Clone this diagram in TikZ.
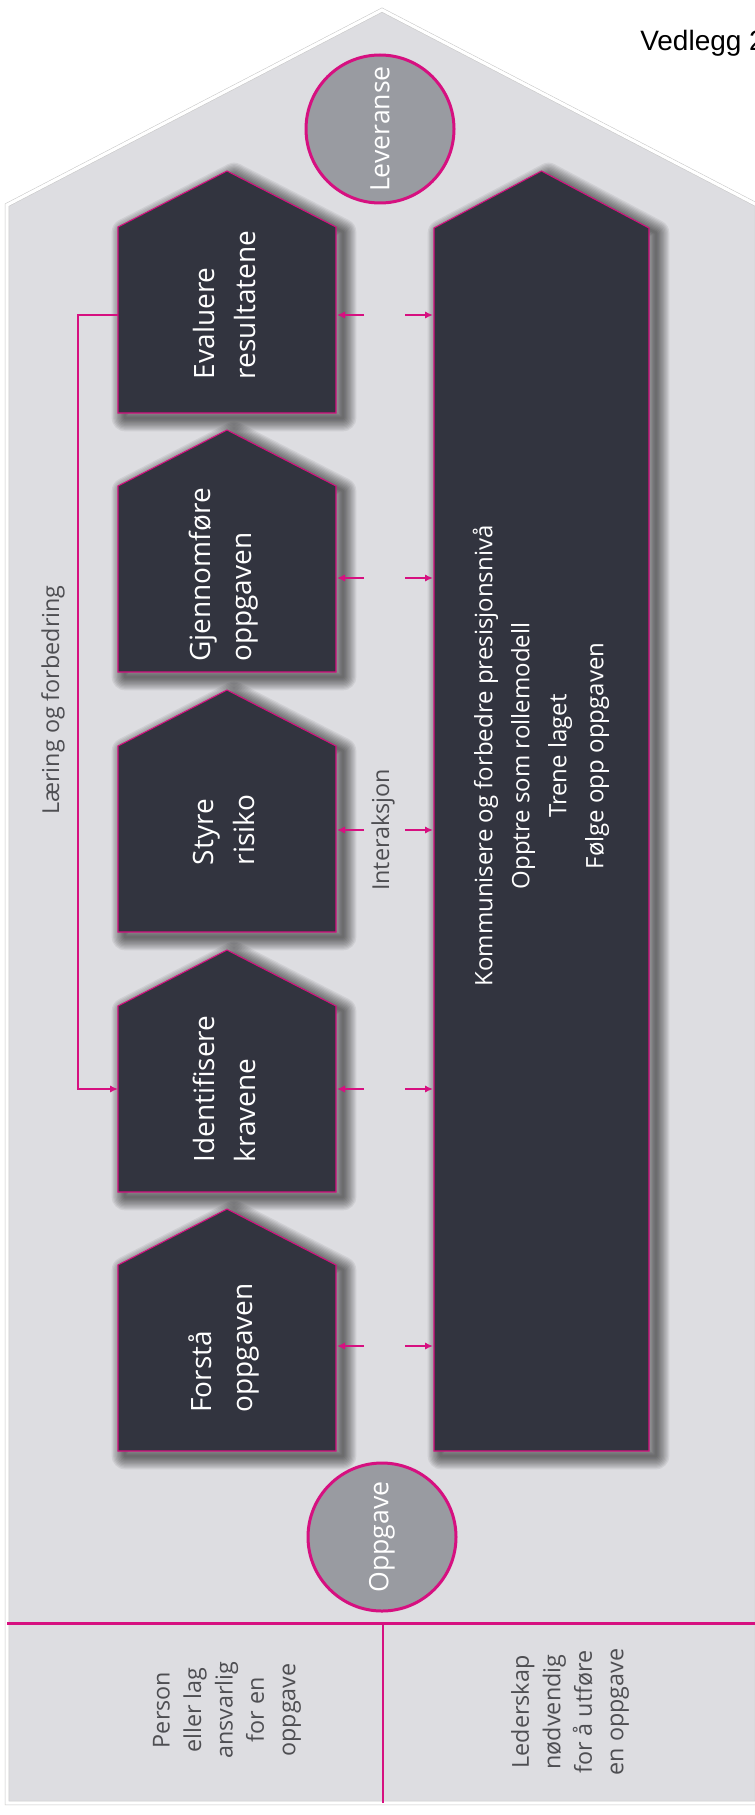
\documentclass[tikz,border=0pt]{standalone}
\usepackage{fontspec}
\setmainfont{Open Sans}
\newfontfamily\arialf{Liberation Sans}
\usetikzlibrary{arrows.meta,calc}
\definecolor{housebg}{RGB}{221,221,225}
\definecolor{boxfill}{RGB}{50,52,63}
\definecolor{mag}{RGB}{214,16,128}
\definecolor{circfill}{RGB}{153,155,161}
\definecolor{labgray}{RGB}{78,78,82}
\newcommand\pentpath[2]{({#1-109},{#2}) -- ({#1-109},{#2-186}) -- ({#1},{#2-242}) -- ({#1+109},{#2-186}) -- ({#1+109},{#2}) -- cycle}
\newcommand\softshade[1]{%
  \foreach \lw in {2pt,4pt,6pt,8pt,10pt,12pt,14pt,16pt,18pt,20pt}{%
    \path[shift={(7,5)}, draw=black, opacity=0.065, line width=\lw, line join=round] #1;}}
\tikzset{
  boxshape/.style={fill=boxfill, draw=mag, line width=0.8pt, line join=miter},
  arr/.style={draw=mag, line width=1.5pt, -{Latex[length=6pt,width=5.5pt]}},
  fbline/.style={draw=mag, line width=1.5pt, -{Latex[length=6pt,width=5.5pt]}},
  boxtext/.style={text=white, rotate=90, align=left, inner sep=0pt, font=\fontsize{21}{30.75}\selectfont},
  bigtext/.style={text=white, rotate=90, align=center, inner sep=0pt, font=\fontsize{18}{27.75}\selectfont},
  circ/.style={circle, fill=circfill, draw=mag, line width=2.25pt, minimum size=111pt, inner sep=0pt},
  circtext/.style={text=white, rotate=90, inner sep=0pt, font=\fontsize{20}{24}\selectfont},
  labtext/.style={text=labgray, rotate=90, align=center, inner sep=0pt, font=\fontsize{17.5}{23.6}\selectfont},
  sidetext/.style={text=labgray, rotate=90, inner sep=0pt, font=\fontsize{17.5}{22}\selectfont},
}
\begin{document}
\begin{tikzpicture}[x=0.75pt,y=-0.75pt]
\useasboundingbox (0,0) rectangle (754,1815);
\fill[white] (0,0) rectangle (754,1815);
% house
\fill[housebg] (7,205) -- (382,10) -- (757,205) -- (757,1803) -- (7,1803) -- cycle;
\draw[black!22, line width=3.2pt, line join=miter] (7,205) -- (382,10) -- (757,205) -- (757,1803) -- (7,1803) -- cycle;
\draw[white, line width=2.4pt, line join=miter] (7,205) -- (382,10) -- (757,205) -- (757,1803) -- (7,1803) -- cycle;
% caption (clipped at the right edge, as in the reference)
\node[anchor=base west, font=\arialf\fontsize{21}{24}\selectfont, inner sep=0pt] (vedl) at (640,51) {Vedlegg 2};
% shadows
\softshade{\pentpath{227}{413}}
\softshade{\pentpath{227}{672}}
\softshade{\pentpath{227}{932}}
\softshade{\pentpath{227}{1192}}
\softshade{\pentpath{227}{1451}}
\softshade{(434,1451) -- (434,228) -- (541.5,171) -- (649,228) -- (649,1451) -- cycle}
% boxes
\path[boxshape] \pentpath{227}{413};
\path[boxshape] \pentpath{227}{672};
\path[boxshape] \pentpath{227}{932};
\path[boxshape] \pentpath{227}{1192};
\path[boxshape] \pentpath{227}{1451};
\path[boxshape] (434,1451) -- (434,228) -- (541.5,171) -- (649,228) -- (649,1451) -- cycle;
% box texts
\node[boxtext] (ev) at (224,305) {Evaluere\\resultatene};
\node[boxtext] (gj) at (224,575) {Gjennomføre\\oppgaven};
\node[boxtext] (st) at (224,830) {Styre\\risiko};
\node[boxtext] (id) at (224,1089) {Identifisere\\kravene};
\node[boxtext] (fo) at (224,1348) {Forstå\\oppgaven};
\node[bigtext] (big) at (541,756) {Kommunisere og forbedre presisjonsnivå\\Opptre som rollemodell\\Trene laget\\Følge opp oppgaven};
% circles
\node[circ] (lev) at (380,129) {};
\node[circtext] (levt) at (lev) {Leveranse};
\node[circ] (opp) at (382,1537) {};
\node[circtext] (oppt) at (opp) {Oppgave};
% interaction arrows
\foreach \nm/\yy in {a/315,b/578,c/830,d/1089,e/1346}{
  \coordinate (L\nm) at (337,\yy);
  \coordinate (R\nm) at (433,\yy);
  \draw[arr] ($(L\nm)+(27,0)$) -- (L\nm);
  \draw[arr] ($(R\nm)+(-28,0)$) -- (R\nm);
}
\node[sidetext] (inter) at (383,830) {Interaksjon};
% feedback loop
\coordinate (evL) at (118,315);
\coordinate (idL) at (118,1089);
\draw[fbline] (evL) -- ++(-40,0) |- (idL);
\node[sidetext] (laer) at (53,700) {Læring og forbedring};
% bottom band
\coordinate (hl) at (7,1623);
\coordinate (hr) at (757,1623);
\draw[mag, line width=2.25pt] (hl) -- (hr);
\coordinate (vt) at (383,1623);
\coordinate (vb) at (383,1803);
\draw[mag, line width=1.6pt] (vt) -- (vb);
\node[labtext] (pers) at (227,1710) {Person\\eller lag\\ansvarlig\\for en\\oppgave};
\node[labtext] (leder) at (570,1712) {Lederskap\\nødvendig\\for å utføre\\en oppgave};
\end{tikzpicture}
\end{document}
